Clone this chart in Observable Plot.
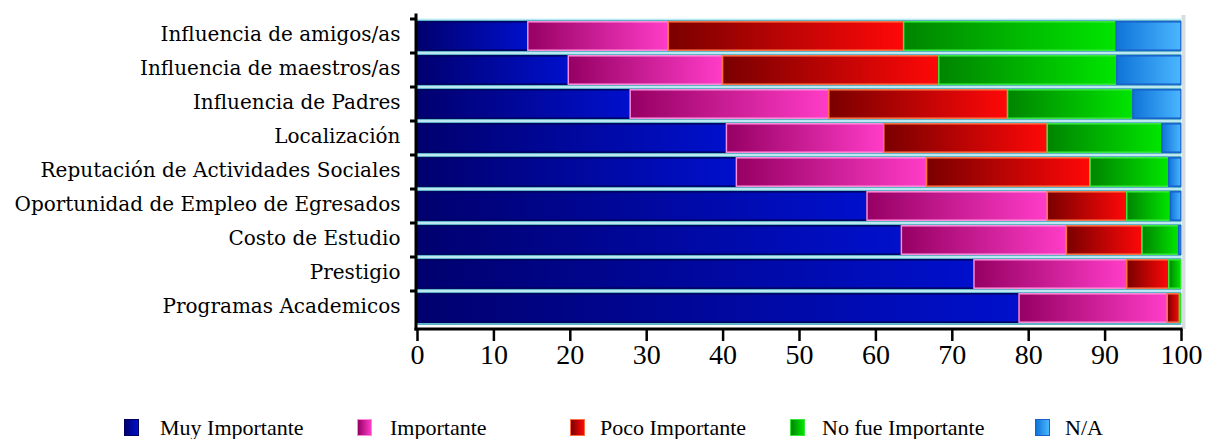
<!DOCTYPE html>
<html>
<head>
<meta charset="utf-8">
<script src="https://cdn.jsdelivr.net/npm/d3@7"></script>
<script src="https://cdn.jsdelivr.net/npm/@observablehq/plot@0.6"></script>
<style>
  body { margin: 0; background: #fff; }
  #wrap { position: relative; width: 1209px; height: 439px; overflow: hidden; }
  #legend { position: absolute; left: 0; top: 416px; width: 1209px; height: 23px;
            font-family: "Liberation Serif", serif; font-size: 22px; color: #000; }
  .sw { position: absolute; top: 3px; width: 15px; height: 17px; box-sizing: border-box; border: 1.5px solid; }
  .lt { position: absolute; top: 0; line-height: 23px; white-space: nowrap; }
</style>
</head>
<body>
<div id="wrap"><div id="chart"></div><div id="legend"></div></div>
<script>
// ---- data ----
const categories = [
  "Influencia de amigos/as",
  "Influencia de maestros/as",
  "Influencia de Padres",
  "Localización",
  "Reputación de Actividades Sociales",
  "Oportunidad de Empleo de Egresados",
  "Costo de Estudio",
  "Prestigio",
  "Programas Academicos"
];
const series = ["Muy Importante", "Importante", "Poco Importante", "No fue Importante", "N/A"];
const muyImportante   = [14.5, 19.8, 27.9, 40.5, 41.8, 58.9, 63.4, 72.9, 78.8];
const importante      = [18.4, 20.2, 26.0, 20.6, 24.9, 23.6, 21.6, 20.0, 19.4];
const pocoImportante  = [30.8, 28.3, 23.4, 21.4, 21.4, 10.4,  9.9,  5.5,  1.6];
const noFueImportante = [27.8, 23.3, 16.4, 15.0, 10.3,  5.7,  4.8,  1.6,  0.2];
const na              = [ 8.5,  8.4,  6.3,  2.5,  1.6,  1.4,  0.3,  0.0,  0.0];
const xTicks = [0, 10, 20, 30, 40, 50, 60, 70, 80, 90, 100];

// ---- styles ----
const gradStops = [
  ["#00006e", "#0010cc"],
  ["#960063", "#ff3cc8"],
  ["#7a0000", "#ff0808"],
  ["#008400", "#00e600"],
  ["#0f74d8", "#4ab6ff"]
];
const strokes = ["#00005e", "#ff8ad8", "#ff7040", "#38e838", "#1a60cc"];

const seriesValues = [muyImportante, importante, pocoImportante, noFueImportante, na];
const data = categories.flatMap((c, i) =>
  series.map((s, j) => ({cat: c, series: s, k: j, value: seriesValues[j][i]}))
).filter(d => d.value > 0);
const bands = categories.map(c => ({cat: c}));

const plot = Plot.plot({
  width: 1209,
  height: 391,
  marginLeft: 417,
  marginRight: 28,
  marginTop: 15,
  marginBottom: 62,
  style: {fontFamily: "DejaVu Serif", color: "#000", background: "transparent"},
  x: {domain: [0, 100], label: null},
  y: {domain: categories, padding: 0, label: null},
  color: {type: "identity"},
  marks: [
    Plot.barX(bands, {y: "cat", x1: 0, x2: 100, fill: "#5fb3c6"}),
    Plot.barX(data, Plot.stackX({
      y: "cat", x: "value", z: "series", order: "k",
      fill: d => `url(#grad${d.k})`,
      stroke: d => strokes[d.k],
      strokeWidth: 1.5,
      insetTop: 2.8, insetBottom: 2.8
    })),
    Plot.axisY({tickSize: 0, tickPadding: 17, fontSize: 20, dy: -2, fontFamily: "DejaVu Serif", fill: "#000"}),
    Plot.axisX({ticks: xTicks, tickSize: 12, strokeWidth: 2.5, stroke: "#000", tickPadding: 3,
                fontSize: 28, fontFamily: "Liberation Serif", fill: "#000"})
  ]
});

// gradients
const svg = d3.select(plot);
const defs = svg.insert("defs", ":first-child");
gradStops.forEach((st, i) => {
  const g = defs.append("linearGradient").attr("id", `grad${i}`)
    .attr("x1", 0).attr("x2", 1).attr("y1", 0).attr("y2", 0);
  g.append("stop").attr("offset", "0%").attr("stop-color", st[0]);
  g.append("stop").attr("offset", "100%").attr("stop-color", st[1]);
});

// axis lines, boundary ticks and light separators from the scales
const xs = plot.scale("x"), ys = plot.scale("y");
const x0 = xs.apply(0), x100 = xs.apply(100);
const [yTop, yBottom] = ys.range;
const bounds = categories.map(c => ys.apply(c));
const g = svg.append("g");
g.selectAll("line.sep").data(bounds).join("line")
  .attr("x1", x0).attr("x2", x100).attr("y1", d => d).attr("y2", d => d)
  .attr("stroke", "#dcf8ff").attr("stroke-width", 1.4);
g.append("rect").attr("x", x100 + 0.5).attr("y", yTop).attr("width", 4).attr("height", yBottom - yTop)
  .attr("fill", "#d8dde2");
g.selectAll("line.tk").data(bounds).join("line")
  .attr("x1", x0 - 7).attr("x2", x0).attr("y1", d => d).attr("y2", d => d)
  .attr("stroke", "#000").attr("stroke-width", 3);
g.append("line").attr("x1", x0 - 1).attr("x2", x0 - 1).attr("y1", yTop - 1.5).attr("y2", yBottom + 1.5)
  .attr("stroke", "#000").attr("stroke-width", 3);
g.append("line").attr("x1", x0 - 2.5).attr("x2", x100 + 1.5).attr("y1", yBottom).attr("y2", yBottom)
  .attr("stroke", "#000").attr("stroke-width", 3);

document.getElementById("chart").appendChild(plot);

// legend
const legendSwatchX = [124, 357, 570, 790, 1035];
const legendTextX = [160, 390, 600, 822, 1065];
const legend = d3.select("#legend");
series.forEach((s, i) => {
  legend.append("div").attr("class", "sw")
    .style("left", legendSwatchX[i] + "px")
    .style("background", `linear-gradient(to right, ${gradStops[i][0]}, ${gradStops[i][1]})`)
    .style("border-color", strokes[i]);
  legend.append("div").attr("class", "lt").style("left", legendTextX[i] + "px").text(s);
});
</script>
</body>
</html>
